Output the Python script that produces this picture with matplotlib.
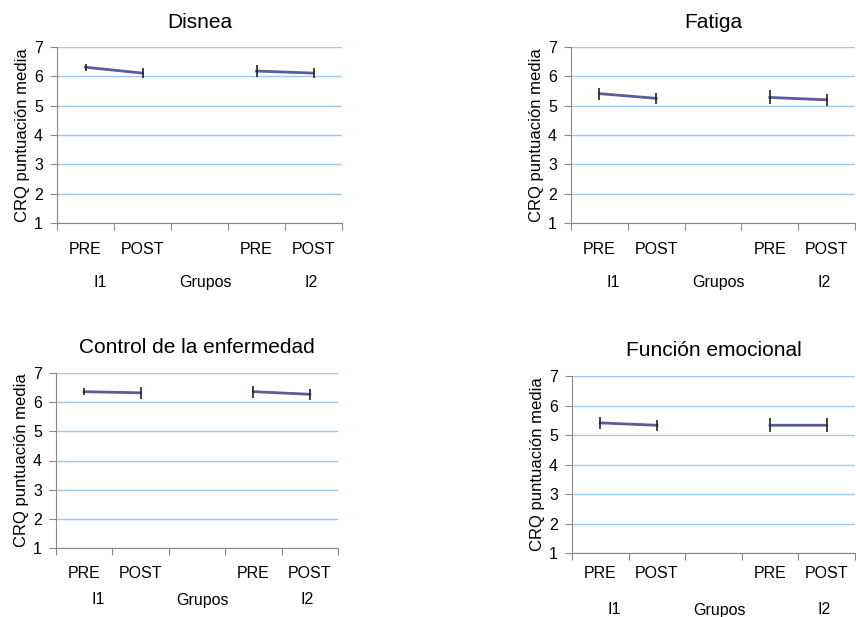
import numpy as np
import matplotlib.pyplot as plt

plt.rcParams['font.family'] = ['Liberation Sans', 'DejaVu Sans']

categorias = ['PRE', 'POST', '', 'PRE', 'POST']
titulos = ['Disnea', 'Fatiga', 'Control de la enfermedad', 'Función emocional']

# medias (PRE, POST, hueco, PRE, POST)
disnea = [6.31, 6.11, np.nan, 6.18, 6.11]
fatiga = [5.41, 5.25, np.nan, 5.28, 5.20]
control = [6.36, 6.32, np.nan, 6.36, 6.27]
emocional = [5.41, 5.33, np.nan, 5.33, 5.33]

# semiamplitud de las barras de error
err_disnea = [0.12, 0.17, 0, 0.19, 0.18]
err_fatiga = [0.20, 0.19, 0, 0.24, 0.21]
err_control = [0.11, 0.21, 0, 0.20, 0.18]
err_emocional = [0.20, 0.19, 0, 0.23, 0.23]

W, H = 856, 617
fig = plt.figure(figsize=(W / 100, H / 100), dpi=100)

# left, right, top, bottom (px), y categorias, y grupos, y titulo
cajas = [(57, 342, 47, 223, 249, 282, 22),
         (571, 855, 47, 223, 249, 282, 22),
         (56, 338, 373, 548, 573, 600, 348),
         (572, 855, 376, 553, 573, 610, 350)]

datos = [(disnea, err_disnea), (fatiga, err_fatiga),
         (control, err_control), (emocional, err_emocional)]

linea = '#5b5b96'
rejilla = '#9cc9f2'
eje = '#888888'

for (l, r, t, b, yc, yg, yt), titulo, (vals, errs) in zip(cajas, titulos, datos):
    ax = fig.add_axes([l / W, 1 - b / H, (r - l) / W, (b - t) / H])
    x = np.arange(len(categorias))
    ax.plot(x, vals, color=linea, lw=2, zorder=3)
    e = np.array(errs, dtype=float)
    v = np.array(vals, dtype=float)
    ok = ~np.isnan(v)
    ax.errorbar(x[ok], v[ok], yerr=e[ok], fmt='none', ecolor='#222222',
                elinewidth=1.2, capsize=0, zorder=4)
    ax.set_xlim(-0.5, 4.5)
    ax.set_ylim(1, 7)
    ax.set_yticks(range(1, 8))
    ax.set_xticks(np.arange(-0.5, 5, 1))
    ax.set_xticklabels([])
    ax.tick_params(axis='x', length=5, color=eje, direction='out')
    ax.tick_params(axis='y', length=5, color=eje, labelsize=11.5, pad=5)
    for i, c in enumerate(categorias):
        ax.text(i, -(yc - b) / (b - t), c, transform=ax.get_xaxis_transform(),
                ha='center', va='center', fontsize=11.5)
    ax.grid(axis='y', color=rejilla, lw=1)
    ax.set_axisbelow(True)
    for s in ['top', 'right']:
        ax.spines[s].set_visible(False)
    ax.spines['left'].set_color(eje)
    ax.spines['bottom'].set_color(eje)
    ax.set_ylabel('CRQ puntuación media', fontsize=12, labelpad=3)
    # títulos y etiquetas de grupo en píxeles de figura
    fig.text((l + r) / 2 / W, 1 - yt / H, titulo, ha='center', va='center',
             fontsize=15)
    ancho = (r - l) / 5
    fig.text((l + ancho * 0.75) / W, 1 - yg / H, 'I1', ha='center',
             va='center', fontsize=11.5)
    fig.text((l + ancho * 2.6) / W, 1 - yg / H, 'Grupos', ha='center',
             va='center', fontsize=11.5)
    fig.text((l + ancho * 4.45) / W, 1 - yg / H, 'I2', ha='center',
             va='center', fontsize=11.5)

fig.savefig('out.png', dpi=100)
